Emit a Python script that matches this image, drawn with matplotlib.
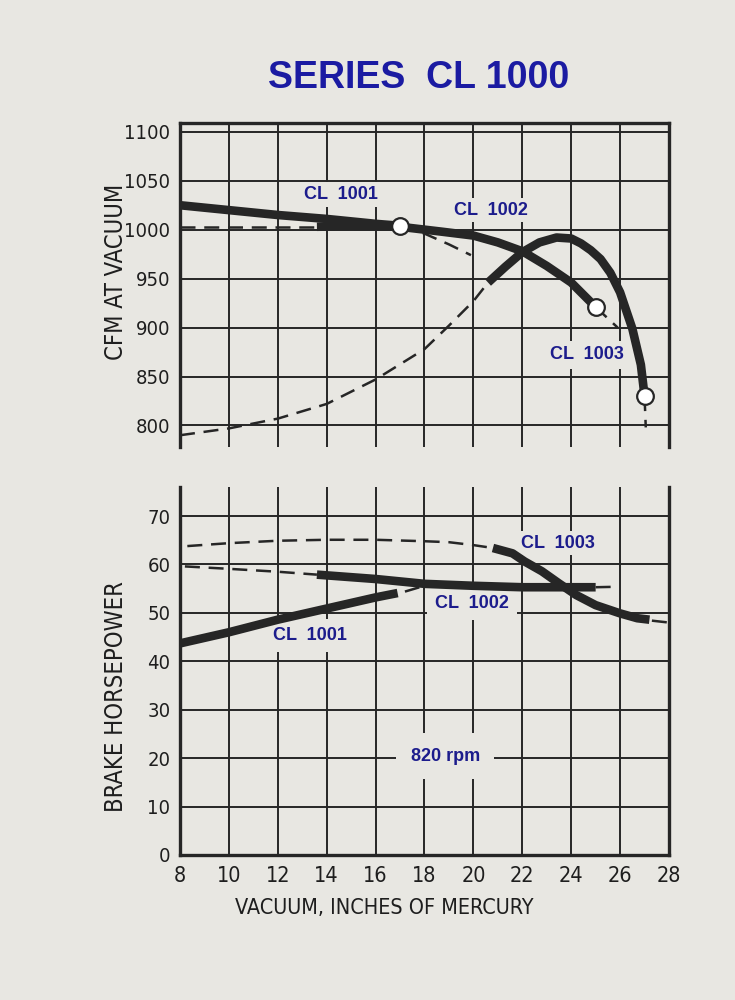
import matplotlib as mpl
import matplotlib.pyplot as plt

# ---- data ----
vacuum_ticks = [8, 10, 12, 14, 16, 18, 20, 22, 24, 26, 28]
cfm_ticks = [800, 850, 900, 950, 1000, 1050, 1100]
bhp_ticks = [0, 10, 20, 30, 40, 50, 60, 70]

# CFM at vacuum
cfm_1001_x = [8, 10, 12, 14, 16, 17]
cfm_1001_y = [1025, 1020, 1015, 1011, 1006, 1004]
cfm_1001_ext_x = [17, 18, 19, 19.9]
cfm_1001_ext_y = [1004, 996, 985, 974]

cfm_1002_lead_x = [8, 13.6]
cfm_1002_lead_y = [1003, 1003]
cfm_1002_x = [13.6, 15, 17, 18.7, 20, 21, 22, 23, 24, 25]
cfm_1002_y = [1003, 1003.5, 1003, 998, 994, 987, 978, 963, 946, 921]
cfm_1002_ext_x = [25, 25.9]
cfm_1002_ext_y = [921, 900]

cfm_1003_lead_x = [8, 10, 12, 14, 16, 18, 19, 20, 20.6]
cfm_1003_lead_y = [790, 797, 807, 822, 847, 878, 902, 927, 946]
cfm_1003_x = [20.6, 21.3, 22, 22.7, 23.4, 24.0, 24.4, 24.8, 25.2, 25.6, 26.0, 26.5, 26.85, 27.0]
cfm_1003_y = [946, 962, 977, 987, 992, 991, 986, 979, 970, 956, 936, 899, 862, 830]
cfm_1003_ext_x = [27.0, 27.05]
cfm_1003_ext_y = [830, 798]

# open circles at the end of each working range
cfm_dots_x = [17, 25, 27.0]
cfm_dots_y = [1004, 921, 830]

# brake horsepower
bhp_1001_x = [8, 10, 12, 14, 16, 16.9]
bhp_1001_y = [43.7, 46.0, 48.6, 50.9, 53.2, 54.1]
bhp_1001_ext_x = [17.2, 18.0]
bhp_1001_ext_y = [54.4, 55.6]

bhp_1002_lead_x = [8.2, 10, 12, 13.6]
bhp_1002_lead_y = [59.6, 59.1, 58.5, 57.9]
bhp_1002_x = [13.6, 16, 18, 20, 22, 25.0]
bhp_1002_y = [57.9, 57.0, 56.0, 55.6, 55.3, 55.3]
bhp_1002_ext_x = [25.0, 25.9]
bhp_1002_ext_y = [55.3, 55.4]

bhp_1003_lead_x = [8.3, 10, 12, 14, 16, 18, 19, 20, 20.8]
bhp_1003_lead_y = [63.8, 64.4, 64.9, 65.1, 65.1, 64.8, 64.6, 64.0, 63.4]
bhp_1003_x = [20.8, 21.6, 22.1, 22.8, 23.5, 24.2, 25.0, 26.0, 26.7, 27.2]
bhp_1003_y = [63.4, 62.3, 60.6, 58.6, 56.1, 53.7, 51.6, 49.9, 48.9, 48.6]
bhp_1003_ext_x = [27.3, 28.0]
bhp_1003_ext_y = [48.4, 48.0]

# ---- styles ----
paper = "#e8e7e2"
ink = "#262626"
blue = "#1c1c8c"
bold = ["Liberation Sans", "DejaVu Sans"]

# condensed face for ticks and axis titles
mpl.rcParams["font.family"] = ["DejaVu Sans"]
mpl.rcParams["font.stretch"] = "condensed"

thick = dict(color=ink, lw=6.2, solid_capstyle="butt", solid_joinstyle="round", zorder=4)
dash = dict(color=ink, lw=1.8, dashes=(6, 3.5), zorder=4)

fig = plt.figure(figsize=(7.35, 10), dpi=100, facecolor=paper)
ax1 = fig.add_axes([0.2449, 0.553, 0.6653, 0.324])
ax2 = fig.add_axes([0.2449, 0.145, 0.6653, 0.368])

for ax in (ax1, ax2):
    ax.set_facecolor(paper)
    ax.set_xlim(8, 28)
    ax.set_xticks(vacuum_ticks)
    ax.grid(True, color=ink, lw=1.4)
    ax.set_axisbelow(True)
    ax.tick_params(length=0, labelsize=14.5, colors="#1e1e1e", pad=7)
    for s in ax.spines.values():
        s.set_color(ink)
        s.set_linewidth(2.4)

ax1.set_ylim(778, 1109)
ax1.set_yticks(cfm_ticks)
ax1.spines["bottom"].set_visible(False)
ax1.tick_params(labelbottom=False)

ax2.set_ylim(0, 76)
ax2.set_yticks(bhp_ticks)
ax2.spines["top"].set_visible(False)
ax2.tick_params(axis="x", labelsize=15.5, pad=8)

# top chart
ax1.plot(cfm_1003_lead_x, cfm_1003_lead_y, **dash)
ax1.plot(cfm_1003_x, cfm_1003_y, **thick)
ax1.plot(cfm_1003_ext_x, cfm_1003_ext_y, **dash)
ax1.plot(cfm_1002_lead_x, cfm_1002_lead_y, **dash)
ax1.plot(cfm_1002_x, cfm_1002_y, **thick)
ax1.plot(cfm_1002_ext_x, cfm_1002_ext_y, **dash)
ax1.plot(cfm_1001_ext_x, cfm_1001_ext_y, **dash)
ax1.plot(cfm_1001_x, cfm_1001_y, **thick)
ax1.plot(cfm_dots_x, cfm_dots_y, ls="none", marker="o", ms=12, mfc="white",
         mec=ink, mew=1.6, zorder=6, clip_on=False)

# bottom chart
ax2.plot(bhp_1003_lead_x, bhp_1003_lead_y, **dash)
ax2.plot(bhp_1003_x, bhp_1003_y, **thick)
ax2.plot(bhp_1003_ext_x, bhp_1003_ext_y, **dash)
ax2.plot(bhp_1002_lead_x, bhp_1002_lead_y, **dash)
ax2.plot(bhp_1002_x, bhp_1002_y, **thick)
ax2.plot(bhp_1002_ext_x, bhp_1002_ext_y, **dash)
ax2.plot(bhp_1001_x, bhp_1001_y, **thick)
ax2.plot(bhp_1001_ext_x, bhp_1001_ext_y, **dash)

def tag(ax, x, y, s, pad=0.35, size=13):
    ax.text(x, y, s, ha="center", va="center", fontsize=size, fontweight="bold",
            color=blue, family=bold, fontstretch="normal", zorder=3,
            bbox=dict(boxstyle="square,pad=%s" % pad, fc=paper, ec="none"))

tag(ax1, 14.6, 1036, "CL  1001", pad=0.2)
tag(ax1, 20.7, 1020, "CL  1002", pad=0.2)
tag(ax1, 24.65, 872, "CL  1003", pad=0.3)
tag(ax2, 23.45, 64.4, "CL  1003", pad=0.2)
tag(ax2, 19.95, 52.0, "CL  1002", pad=0.45)
tag(ax2, 13.3, 45.3, "CL  1001", pad=0.45)
tag(ax2, 18.85, 20.4, "820 rpm", pad=0.8)

fig.text(0.570, 0.922, "SERIES  CL 1000", ha="center", va="center", fontsize=27,
         fontweight="bold", color="#1b1ba2", family=bold, fontstretch="normal")
fig.text(0.158, 0.728, "CFM AT VACUUM", rotation=90, ha="center", va="center",
         fontsize=17, color="#1e1e1e")
fig.text(0.158, 0.303, "BRAKE HORSEPOWER", rotation=90, ha="center", va="center",
         fontsize=17, color="#1e1e1e")
fig.text(0.523, 0.092, "VACUUM, INCHES OF MERCURY", ha="center", va="center",
         fontsize=15.5, color="#1e1e1e")

fig.savefig("out.png", dpi=100, facecolor=paper)
